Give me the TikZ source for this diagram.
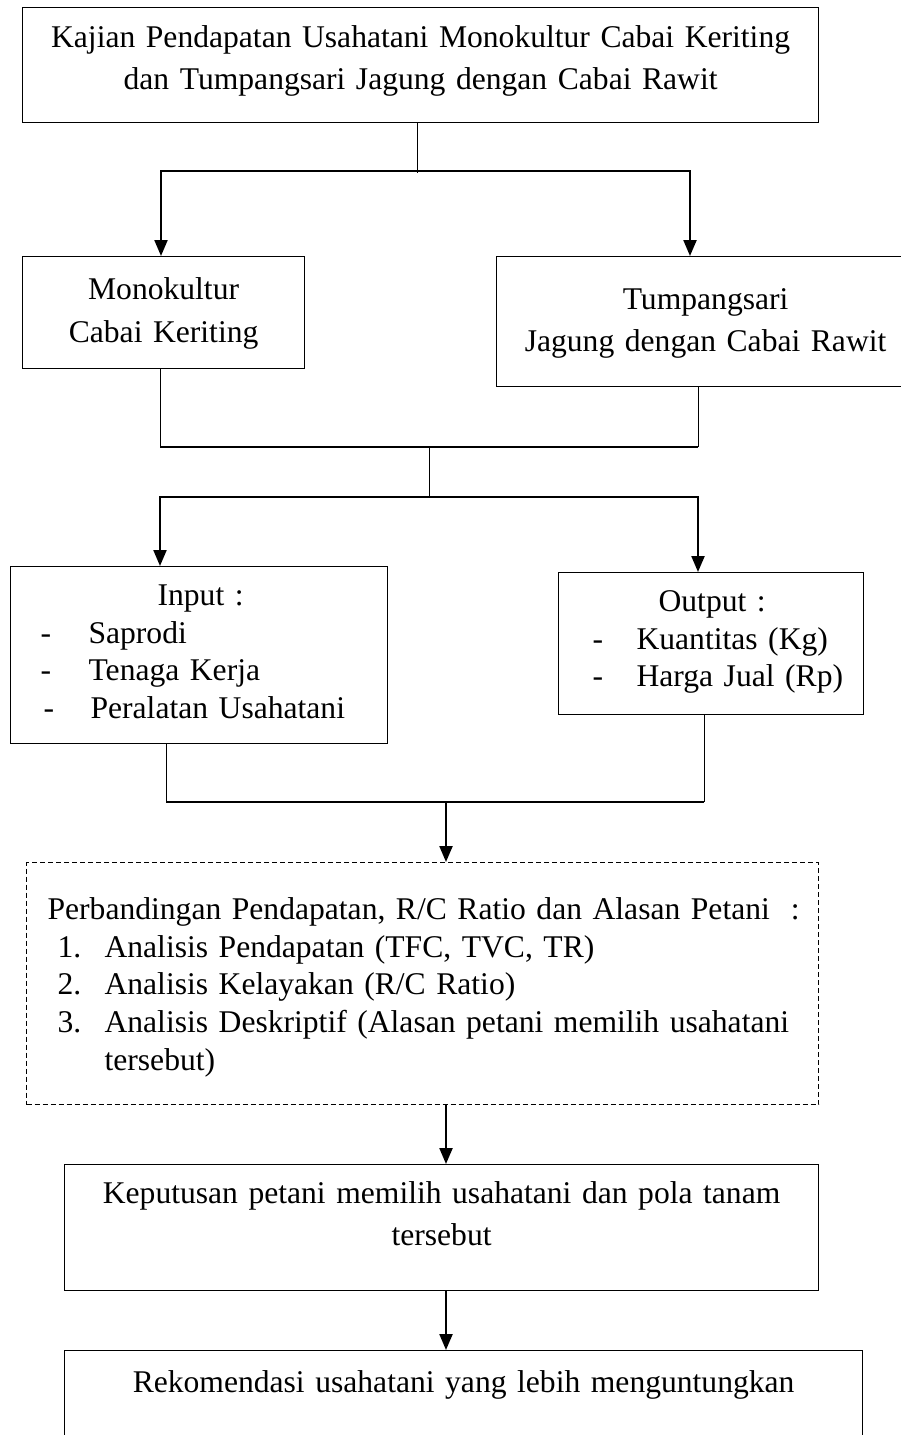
\documentclass[tikz,border=0pt]{standalone}
\usepackage{fontspec}
\setmainfont[WordSpace=0.85]{Liberation Serif}
\usetikzlibrary{arrows.meta}

\begin{document}
\begin{tikzpicture}
	[x=1pt, y=-1pt,
	box/.style={draw, line width=1.2pt, anchor=north west, inner sep=0pt, align=center, font=\fontsize{31.6}{42}\selectfont},
	listbox/.style={box, align=left, font=\fontsize{31.6}{37.6}\selectfont},
	link/.style={line width=0.9pt},
	bar/.style={line width=2.2pt},
	tip/.style={bar, -{Triangle[width=13pt,length=16pt]}},
	twotip/.style={bar, {Triangle[width=13pt,length=16pt]}-{Triangle[width=13pt,length=16pt]}}]
	\useasboundingbox (0,0) rectangle (901,1435);
	\clip (0,0) rectangle (901,1435);

	% boxes
	\node[box, text width=796pt, text height=40pt, text depth=75pt] (kajian) at (22,7)
		{Kajian Pendapatan Usahatani Monokultur Cabai Keriting\\dan Tumpangsari Jagung dengan Cabai Rawit};
	\node[box, text width=282pt, text height=43pt, text depth=69pt, font=\fontsize{31.6}{43}\selectfont] (mono) at (22,256)
		{Monokultur\\Cabai Keriting};
	\node[box, text width=418pt, text height=53pt, text depth=77pt] (tumpang) at (496,256)
		{Tumpangsari\\Jagung dengan Cabai Rawit};
	\node[listbox, text width=377pt, text height=39pt, text depth=138pt] (input) at (10,566)
		{\hspace*{147pt}Input :\\
		\hspace*{30pt}\makebox[48pt][l]{-}Saprodi\\
		\hspace*{30pt}\makebox[48pt][l]{-}Tenaga Kerja\\
		\hspace*{33pt}\makebox[47pt][l]{-}Peralatan Usahatani};
	\node[listbox, text width=305pt, text height=39pt, text depth=103pt] (output) at (558,572)
		{\hspace*{100pt}Output :\\
		\hspace*{34pt}\makebox[44pt][l]{-}Kuantitas (Kg)\\
		\hspace*{34pt}\makebox[44pt][l]{-}Harga Jual (Rp)};
	\node[listbox, dash pattern=on 5pt off 3pt, text width=792pt, text height=57pt, text depth=185pt] (analisis) at (26,862)
		{\hspace*{21pt}Perbandingan Pendapatan, R/C Ratio dan Alasan Petani \ :\\
		\hspace*{31pt}\makebox[47pt][l]{1.}Analisis Pendapatan (TFC, TVC, TR)\\
		\hspace*{31pt}\makebox[47pt][l]{2.}Analisis Kelayakan (R/C Ratio)\\
		\hspace*{31pt}\makebox[47pt][l]{3.}Analisis Deskriptif (Alasan petani memilih usahatani\\
		\hspace*{78pt}tersebut)};
	\node[box, text width=754pt, text height=39pt, text depth=87pt] (keputusan) at (64,1164)
		{Keputusan petani memilih usahatani dan pola tanam\\tersebut};
	\node[box, text width=798pt, text height=42pt, text depth=120pt] (rekomendasi) at (64,1350)
		{Rekomendasi usahatani yang lebih menguntungkan};

	% kajian -> mono, tumpang
	\coordinate (s1) at (417,173);
	\coordinate (s1l) at (161,171);
	\coordinate (s1r) at (690,171);
	\draw[link] (kajian.south -| s1) -- (s1);
	\draw[twotip] (mono.north -| s1l) -- (s1l) -- (s1r) -- (tumpang.north -| s1r);

	% mono, tumpang -> input, output
	\coordinate (j2l) at (160,447);
	\coordinate (j2r) at (698,447);
	\coordinate (j2) at (429,447);
	\coordinate (s2) at (429,497);
	\coordinate (s2l) at (160,497);
	\coordinate (s2r) at (698,497);
	\draw[link] (mono.south -| j2l) -- (j2l);
	\draw[link] (tumpang.south -| j2r) -- (j2r);
	\draw[bar] (j2l) -- (j2r);
	\draw[link] (j2) -- (s2);
	\draw[twotip] (input.north -| s2l) -- (s2l) -- (s2r) -- (output.north -| s2r);

	% input, output -> analisis
	\coordinate (j3l) at (166,802);
	\coordinate (j3r) at (704,802);
	\coordinate (j3) at (446,802);
	\draw[link] (input.south -| j3l) -- (j3l);
	\draw[link] (output.south -| j3r) -- (j3r);
	\draw[bar] (j3l) -- (j3r);
	\draw[tip] (j3) -- (analisis.north -| j3);
	\draw[tip] (analisis.south -| j3) -- (keputusan.north -| j3);
	\draw[tip] (keputusan.south -| j3) -- (rekomendasi.north -| j3);
\end{tikzpicture}
\end{document}
